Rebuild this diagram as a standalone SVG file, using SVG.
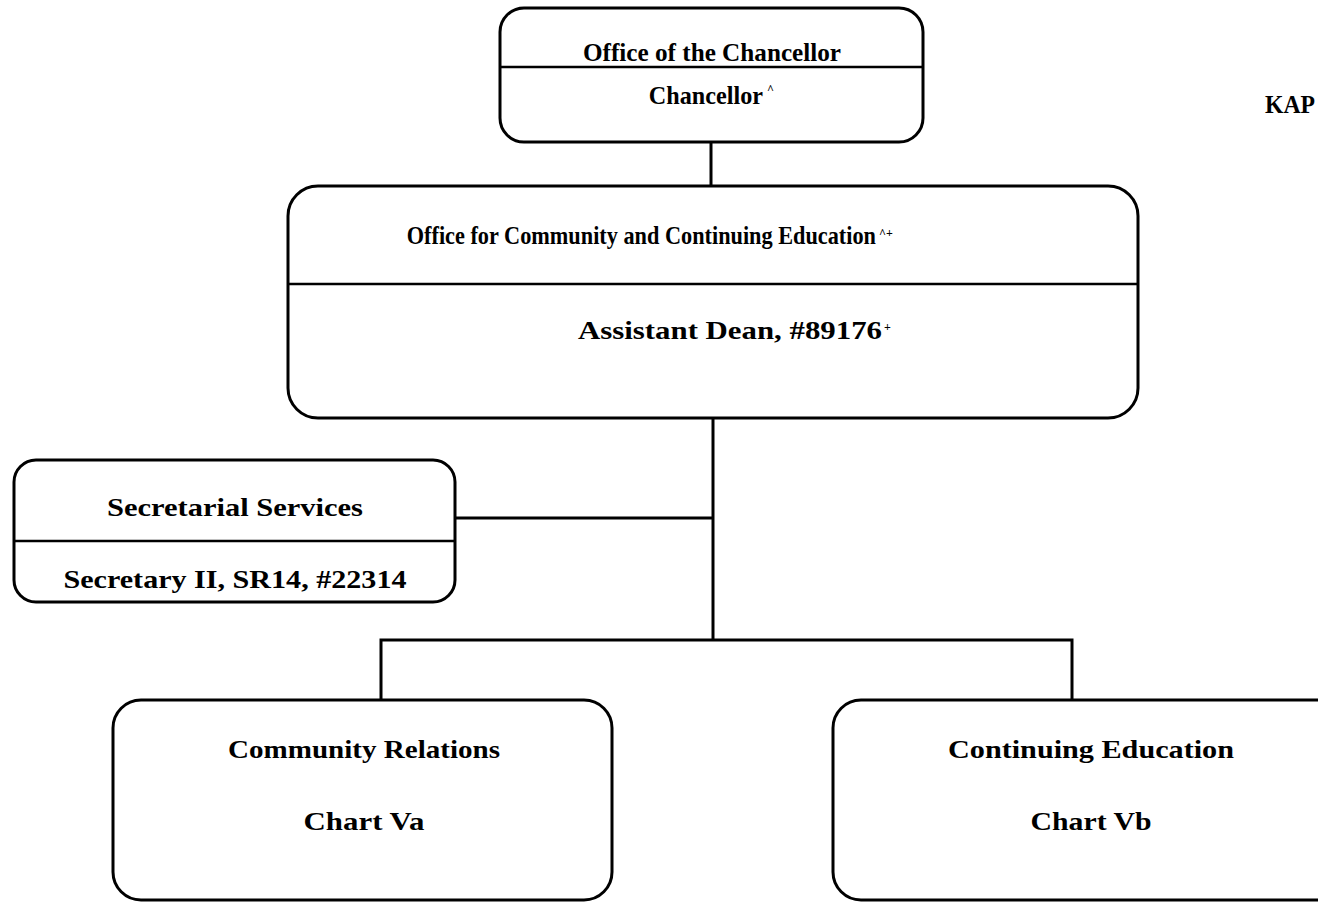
<svg xmlns="http://www.w3.org/2000/svg" width="1318" height="904" viewBox="0 0 1318 904">
<style>
.box{fill:#fff;stroke:#000;stroke-width:3}
.div{stroke:#000;stroke-width:2.5}
.con{stroke:#000;stroke-width:3;fill:none}
text{font-family:"Liberation Serif","Times New Roman",serif;font-weight:bold;fill:#000;text-anchor:middle}
.t{font-size:26px}
.e{text-anchor:end}
.sup{font-size:12px;text-anchor:start}
</style>
<rect width="1318" height="904" fill="#fff"/>
<g id="connectors">
<line class="con" x1="711" y1="142" x2="711" y2="186"/>
<line class="con" x1="713" y1="418" x2="713" y2="640"/>
<line class="con" x1="455" y1="518" x2="713" y2="518"/>
<polyline class="con" points="381,700 381,640 1072,640 1072,700"/>
</g>
<g id="chancellor">
<rect class="box" x="500" y="8" width="423" height="134" rx="24"/>
<line class="div" x1="500" y1="67" x2="923" y2="67"/>
<text class="t" x="712" y="61" textLength="258" lengthAdjust="spacingAndGlyphs">Office of the Chancellor</text>
<text class="t e" transform="translate(763,104) scale(0.93,1)">Chancellor</text>
<text class="sup" x="767" y="93">^</text>
</g>
<g id="kap">
<text class="t" x="1265" y="113" style="text-anchor:start" textLength="50" lengthAdjust="spacingAndGlyphs">KAP</text>
</g>
<g id="office">
<rect class="box" x="288" y="186" width="850" height="232" rx="30"/>
<line class="div" x1="288" y1="284" x2="1138" y2="284"/>
<text class="t e" transform="translate(876,244) scale(0.857,1)">Office for Community and Continuing Education</text>
<text class="sup" x="879" y="237">^+</text>
<text class="t e" x="882" y="339" textLength="304" lengthAdjust="spacingAndGlyphs">Assistant Dean, #89176</text>
<text class="sup" x="884" y="331">+</text>
</g>
<g id="secretarial">
<rect class="box" x="14" y="460" width="441" height="142" rx="22"/>
<line class="div" x1="14" y1="541" x2="455" y2="541"/>
<text class="t" x="235" y="516" textLength="256" lengthAdjust="spacingAndGlyphs">Secretarial Services</text>
<text class="t" x="235" y="588" textLength="343" lengthAdjust="spacingAndGlyphs">Secretary II, SR14, #22314</text>
</g>
<g id="community">
<rect class="box" x="113" y="700" width="499" height="200" rx="28"/>
<text class="t" x="364" y="758" textLength="272" lengthAdjust="spacingAndGlyphs">Community Relations</text>
<text class="t" x="364" y="830" textLength="121" lengthAdjust="spacingAndGlyphs">Chart Va</text>
</g>
<g id="continuing">
<rect class="box" x="833" y="700" width="520" height="200" rx="28"/>
<text class="t" x="1091" y="758" textLength="286" lengthAdjust="spacingAndGlyphs">Continuing Education</text>
<text class="t" x="1091" y="830" textLength="121" lengthAdjust="spacingAndGlyphs">Chart Vb</text>
</g>
</svg>
